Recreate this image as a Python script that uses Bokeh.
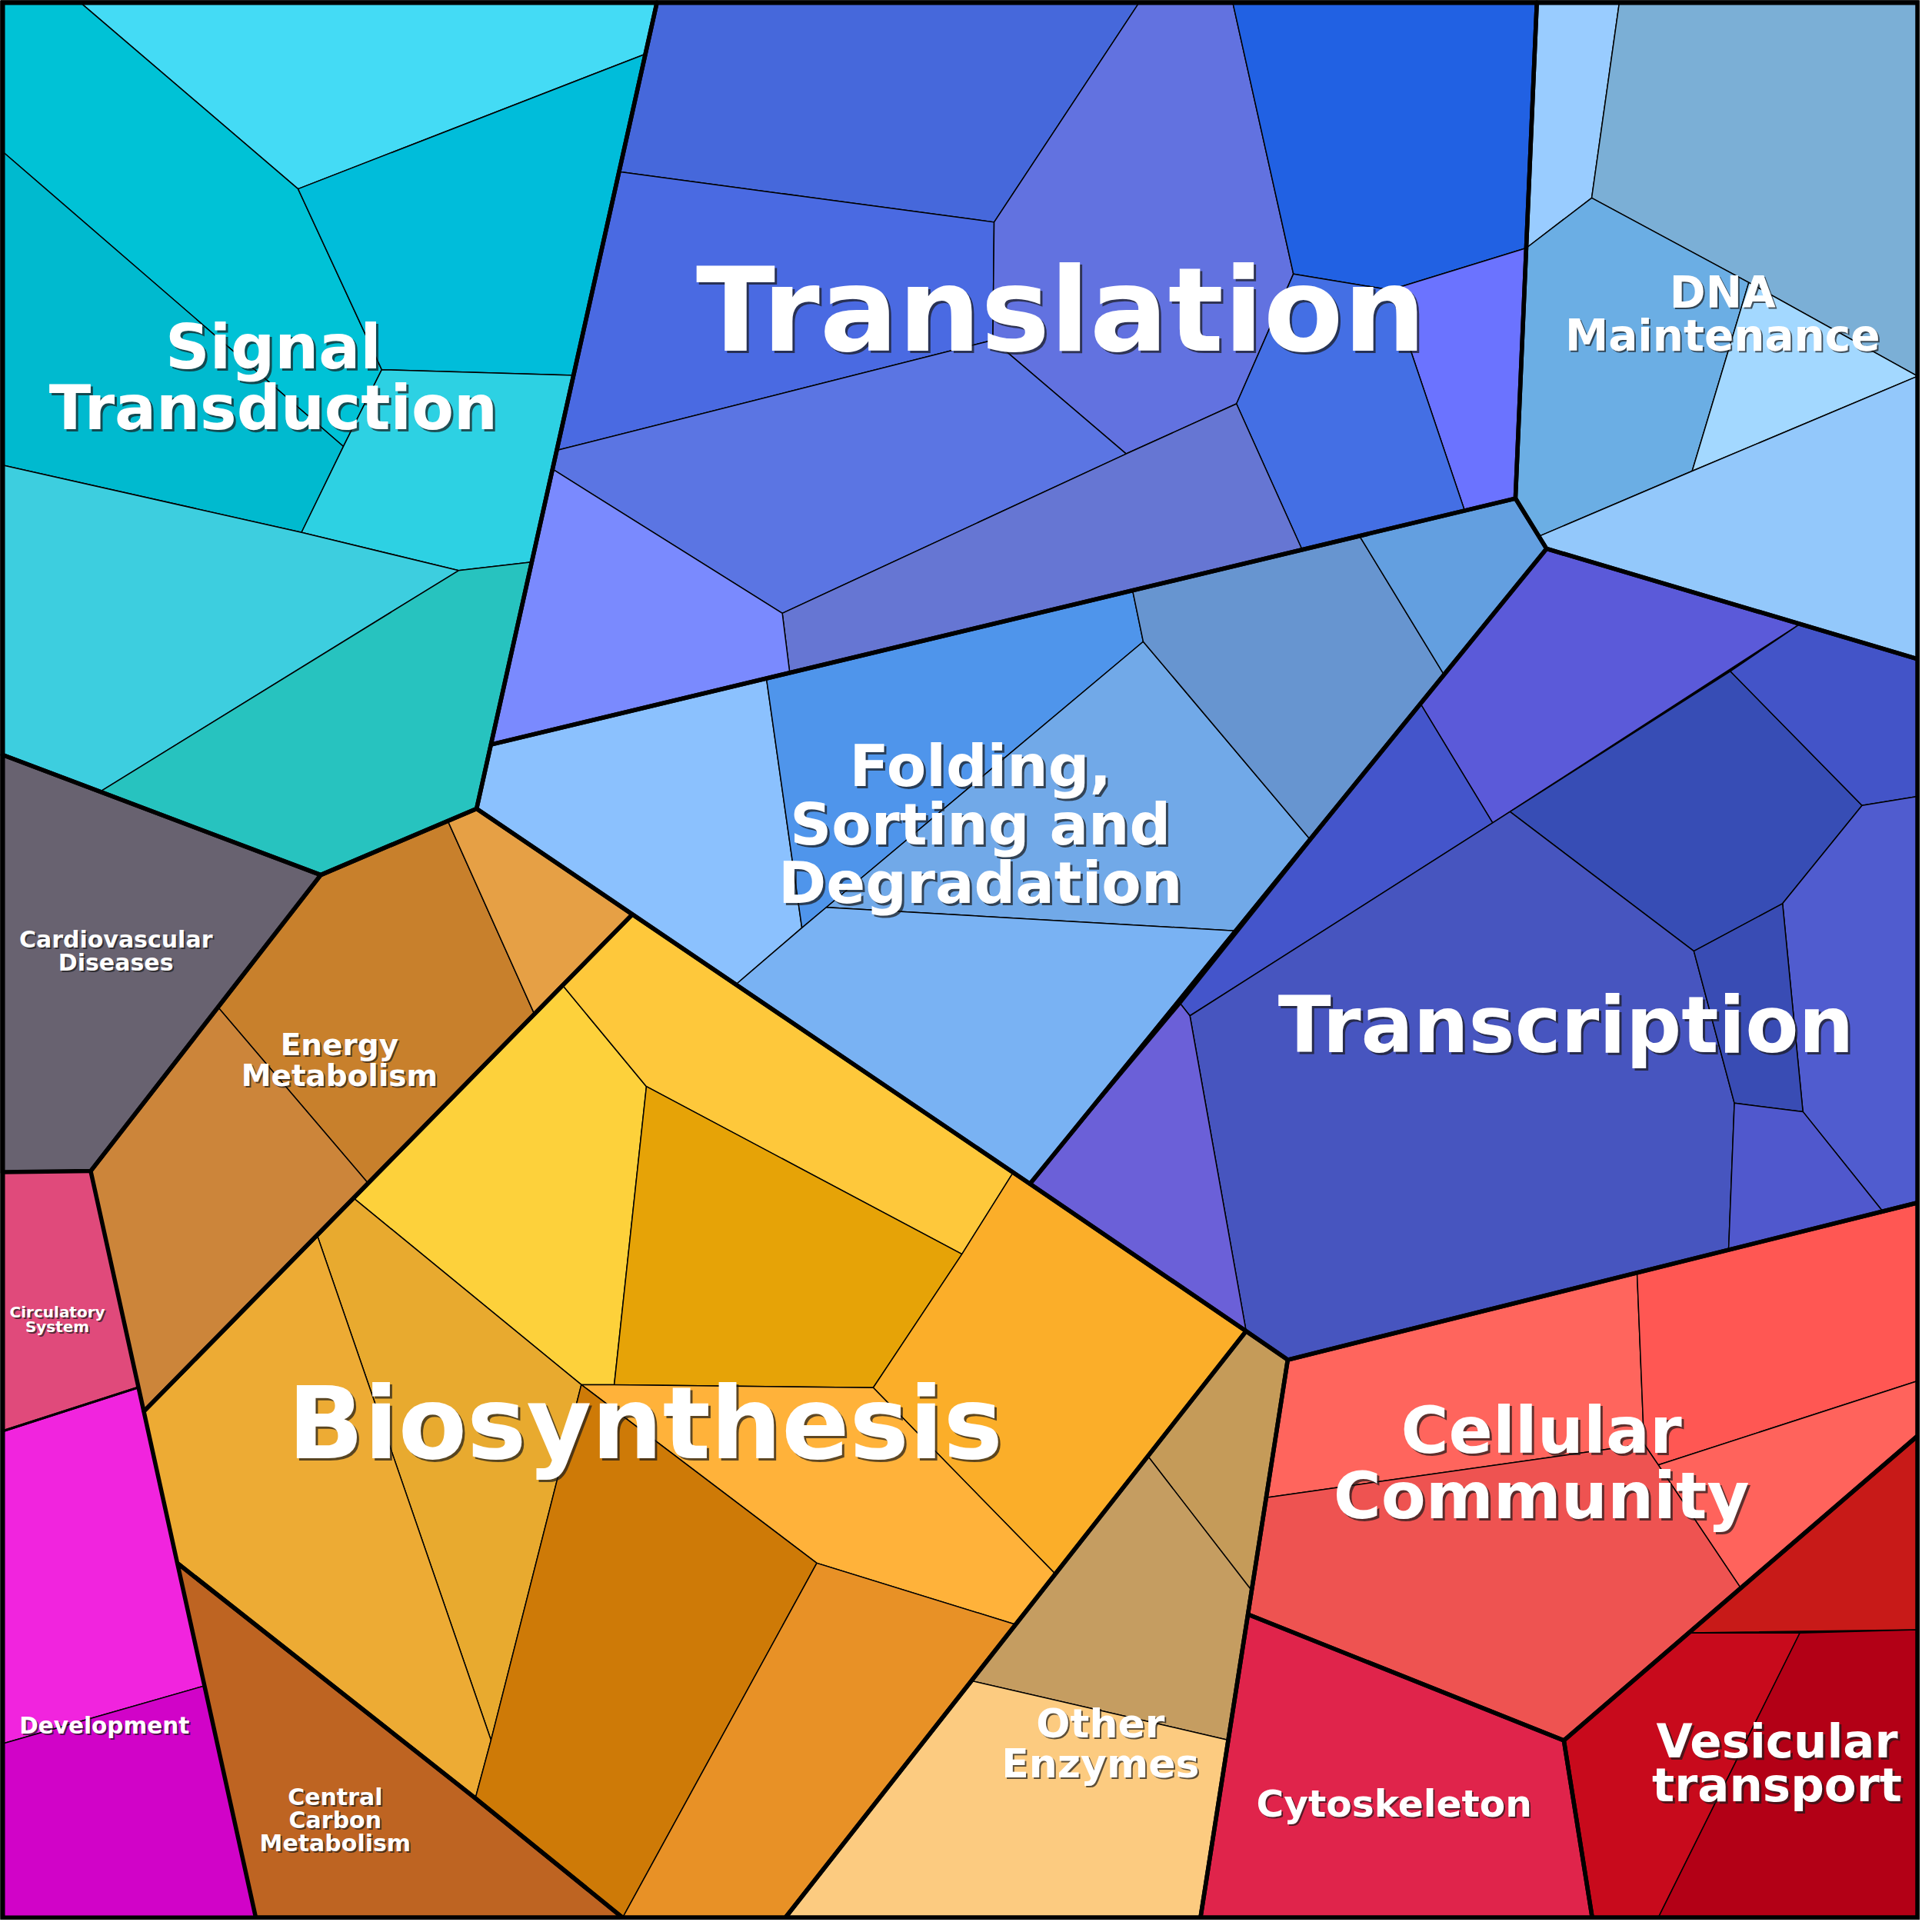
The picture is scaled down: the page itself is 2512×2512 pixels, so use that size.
from bokeh.plotting import figure
from bokeh.models import Range1d, ColumnDataSource
from bokeh.embed import file_html
from bokeh.resources import INLINE
from bokeh.core.properties import value

# ---------------- data: Voronoi cells (vertices) ----------------
SIGNAL_TRANSDUCTION = [
    [(69, 6), (538, 6), (528.5, 48.5), (246.6, 158)],
    [(6, 6), (69, 6), (246.6, 158), (314.5, 304.7), (283.4, 367), (6, 127)],
    [(246.6, 158), (528.5, 48.5), (470.2, 309.3), (314.5, 304.7)],
    [(6, 127), (283.4, 367), (249.4, 436.8), (6, 382)],
    [(314.5, 304.7), (470.2, 309.3), (436.4, 460.8), (376.9, 467.7), (249.4, 436.8), (283.4, 367)],
    [(6, 382), (249.4, 436.8), (376.9, 467.7), (85.9, 647.2), (6, 617)],
    [(376.9, 467.7), (436.4, 460.8), (391.5, 661), (265, 714.8), (85.9, 647.2)],
]
SIGNAL_TRANSDUCTION_COLORS = ["#44DBF5", "#00C2D6", "#00BDDA", "#00BACF", "#2DD1E3", "#3DCEDF", "#27C3BF"]

TRANSLATION = [
    [(538, 6), (929.7, 6), (811.5, 185), (507.1, 144)],
    [(507.1, 144), (811.5, 185), (810.5, 280.7), (456.6, 370.2)],
    [(929.7, 6), (1005, 6), (1054.4, 227), (1008.2, 332.4), (918.7, 373), (810.5, 280.7), (811.5, 185)],
    [(1005, 6), (1252, 6), (1243.4, 206), (1133, 240), (1054.4, 227)],
    [(1133, 240), (1243.4, 206), (1234.6, 409.2), (1193.4, 419.1)],
    [(1054.4, 227), (1133, 240), (1193.4, 419.1), (1061.5, 450.8), (1008.2, 332.4)],
    [(456.6, 370.2), (810.5, 280.7), (918.7, 373), (639.6, 502.4), (453.1, 385.4)],
    [(639.6, 502.4), (918.7, 373), (1008.2, 332.4), (1061.5, 450.8), (645.6, 550.7)],
    [(453.1, 385.4), (639.6, 502.4), (645.6, 550.7), (403.1, 609)],
]
TRANSLATION_COLORS = ["#4668DB", "#4A6AE2", "#6272E0", "#2161E3", "#6B73FF", "#446FE4", "#5B75E3", "#6676D3", "#7A8AFE"]

DNA_MAINTENANCE = [
    [(1252, 6), (1319, 6), (1296.5, 165.3), (1243.4, 206)],
    [(1319, 6), (1561, 6), (1561, 310), (1424, 234), (1296.5, 165.3)],
    [(1243.4, 206), (1296.5, 165.3), (1424, 234), (1378, 387), (1253.6, 440), (1234.6, 409.2)],
    [(1424, 234), (1561, 310), (1378, 387)],
    [(1378, 387), (1561, 310), (1561, 539.5), (1259.8, 450), (1253.6, 440)],
]
DNA_MAINTENANCE_COLORS = ["#99CCFF", "#7BAFD6", "#6BAEE4", "#A3D8FF", "#93C8FB"]

FOLDING = [
    [(403.1, 609), (626.7, 555.3), (655.5, 757.7), (601.8, 803.8), (391.5, 661)],
    [(626.7, 555.3), (924, 484.5), (932.5, 525.4), (675.3, 741.1), (655.5, 757.7)],
    [(932.5, 525.4), (1067.6, 685.5), (1006.7, 760.1), (675.3, 741.1)],
    [(655.5, 757.7), (675.3, 741.1), (1006.7, 760.1), (840.6, 965.5), (601.8, 803.8)],
    [(924, 484.5), (1108, 439.6), (1176.5, 552), (1067.6, 685.5), (932.5, 525.4)],
    [(1108, 439.6), (1234.6, 409.2), (1259.8, 450), (1176.5, 552)],
]
FOLDING_COLORS = ["#8BC1FE", "#4F95EB", "#71A9E8", "#79B2F3", "#6795D0", "#639FE0"]

TRANSCRIPTION = [
    [(1259.8, 450), (1465.5, 511.1), (1216.1, 672.5), (1157.6, 575.9)],
    [(1157.6, 575.9), (1216.1, 672.5), (970.4, 829.1), (962.9, 819.6)],
    [(1230.2, 663.5), (1409, 549.5), (1515.9, 658.4), (1451.4, 738), (1379.4, 776.6)],
    [(970.4, 829.1), (1216.1, 672.5), (1230.2, 663.5), (1379.4, 776.6), (1412.3, 900),
     (1407.6, 1019.1), (1049.8, 1108.3), (1016, 1085)],
    [(1465.5, 511.1), (1561, 539.5), (1561, 651.1), (1515.9, 658.4), (1409, 549.5)],
    [(1515.9, 658.4), (1561, 651.1), (1561, 980.8), (1532.8, 987.9), (1467.9, 906.9), (1451.4, 738)],
    [(1379.4, 776.6), (1451.4, 738), (1467.9, 906.9), (1412.3, 900)],
    [(1412.3, 900), (1467.9, 906.9), (1532.8, 987.9), (1407.6, 1019.1)],
    [(962.9, 819.6), (970.4, 829.1), (1016, 1085), (840.6, 965.5)],
]
TRANSCRIPTION_COLORS = ["#5B5AD9", "#4455CB", "#374DB5", "#4755BF", "#4354C8", "#505CCF", "#394CB4", "#5058CD", "#6B60D8"]

CELLULAR_COMMUNITY = [
    [(1049.8, 1108.3), (1333.3, 1037.6), (1339, 1176.6), (1032.3, 1220.2)],
    [(1333.3, 1037.6), (1561, 980.8), (1561, 1125.4), (1350.5, 1193.6), (1339, 1176.6)],
    [(1350.5, 1193.6), (1561, 1125.4), (1561, 1170), (1417.5, 1293.6)],
    [(1032.3, 1220.2), (1339, 1176.6), (1350.5, 1193.6), (1417.5, 1293.6), (1273.9, 1417.2), (1017.5, 1314.9)],
]
CELLULAR_COMMUNITY_COLORS = ["#FF655D", "#FF5753", "#FF635C", "#EE5351"]

CYTOSKELETON = [[(1017.5, 1314.9), (1273.9, 1417.2), (1296.9, 1561), (979, 1561)]]
CYTOSKELETON_COLORS = ["#E0244B"]

VESICULAR_TRANSPORT = [
    [(1417.5, 1293.6), (1561, 1170), (1561, 1327.4), (1375.4, 1329.9)],
    [(1375.4, 1329.9), (1465.4, 1330), (1350.5, 1561), (1296.9, 1561), (1273.9, 1417.2)],
    [(1465.4, 1330), (1561, 1327.4), (1561, 1561), (1350.5, 1561)],
]
VESICULAR_TRANSPORT_COLORS = ["#C81A18", "#C80A1C", "#B30016"]

OTHER_ENZYMES = [
    [(1016, 1085), (1049.8, 1108.3), (1020.5, 1295.5), (936.3, 1186.5)],
    [(936.3, 1186.5), (1020.5, 1295.5), (1001.5, 1416.9), (793.1, 1368.8)],
    [(793.1, 1368.8), (1001.5, 1416.9), (979, 1561), (642.1, 1561)],
]
OTHER_ENZYMES_COLORS = ["#C59B59", "#C59D61", "#FCCB80"]

BIOSYNTHESIS = [
    [(461.4, 804.5), (529.3, 886.5), (503.2, 1128.5), (476.5, 1128.5), (292.1, 977.4)],
    [(517.9, 746.8), (826.8, 956.5), (785.4, 1022.5), (529.3, 886.5), (461.4, 804.5)],
    [(529.3, 886.5), (785.4, 1022.5), (713.4, 1130.9), (503.2, 1128.5)],
    [(826.8, 956.5), (1016, 1085), (861.2, 1282.1), (713.4, 1130.9), (785.4, 1022.5)],
    [(476.5, 1128.5), (503.2, 1128.5), (713.4, 1130.9), (861.2, 1282.1), (829, 1323.1), (667.6, 1273.3)],
    [(292.1, 977.4), (476.5, 1128.5), (403.2, 1416.9), (262.3, 1007.8)],
    [(262.3, 1007.8), (403.2, 1416.9), (390.5, 1464.1), (148.6, 1273.3), (121.4, 1150.2)],
    [(476.5, 1128.5), (667.6, 1273.3), (510, 1561), (390.5, 1464.1), (403.2, 1416.9)],
    [(667.6, 1273.3), (829, 1323.1), (642.1, 1561), (510, 1561)],
]
BIOSYNTHESIS_COLORS = ["#FDD13B", "#FEC83B", "#E6A307", "#FBAE29", "#FFB23A", "#E8AA2F", "#EDAB34", "#CE7A07", "#E89126"]

CENTRAL_CARBON = [[(148.6, 1273.3), (390.5, 1464.1), (510, 1561), (212.3, 1561)]]
CENTRAL_CARBON_COLORS = ["#BE6422"]

ENERGY_METABOLISM = [
    [(265, 714.8), (368.2, 671.1), (438.5, 827.9), (304, 965.6), (181.6, 822.1)],
    [(368.2, 671.1), (391.5, 661), (517.9, 746.8), (438.5, 827.9)],
    [(181.6, 822.1), (304, 965.6), (121.4, 1150.2), (78.3, 955.1)],
]
ENERGY_METABOLISM_COLORS = ["#C8802C", "#E6A045", "#CC853A"]

CARDIOVASCULAR = [[(6, 617), (265, 714.8), (78.3, 955.1), (6, 956)]]
CARDIOVASCULAR_COLORS = ["#686270"]

CIRCULATORY = [[(6, 956), (78.3, 955.1), (117.1, 1130.7), (6, 1166.5)]]
CIRCULATORY_COLORS = ["#E04A7B"]

DEVELOPMENT = [
    [(6, 1166.5), (117.1, 1130.7), (170.6, 1372.9), (6, 1420)],
    [(6, 1420), (170.6, 1372.9), (212.3, 1561), (6, 1561)],
]
DEVELOPMENT_COLORS = ["#F124DE", "#D103C8"]

# group outlines (top-level categories)
GROUP_OUTLINES = [
    [(6, 6), (538, 6), (391.5, 661), (265, 714.8), (6, 617)],
    [(538, 6), (1252, 6), (1234.6, 409.2), (403.1, 609)],
    [(1252, 6), (1561, 6), (1561, 539.5), (1259.8, 450), (1234.6, 409.2)],
    [(403.1, 609), (1234.6, 409.2), (1259.8, 450), (840.6, 965.5), (391.5, 661)],
    [(1259.8, 450), (1561, 539.5), (1561, 980.8), (1049.8, 1108.3), (1016, 1085), (840.6, 965.5)],
    [(1049.8, 1108.3), (1561, 980.8), (1561, 1170), (1273.9, 1417.2), (1017.5, 1314.9)],
    [(1017.5, 1314.9), (1273.9, 1417.2), (1296.9, 1561), (979, 1561)],
    [(1561, 1170), (1561, 1561), (1296.9, 1561), (1273.9, 1417.2)],
    [(1016, 1085), (1049.8, 1108.3), (979, 1561), (642.1, 1561)],
    [(517.9, 746.8), (840.6, 965.5), (1016, 1085), (642.1, 1561), (510, 1561), (390.5, 1464.1),
     (148.6, 1273.3), (121.4, 1150.2)],
    [(148.6, 1273.3), (390.5, 1464.1), (510, 1561), (212.3, 1561)],
    [(265, 714.8), (391.5, 661), (517.9, 746.8), (121.4, 1150.2), (78.3, 955.1)],
    [(6, 617), (265, 714.8), (78.3, 955.1), (6, 956)],
]
MINOR_OUTLINES = [
    [(6, 956), (78.3, 955.1), (117.1, 1130.7), (6, 1166.5)],
    [(6, 1166.5), (117.1, 1130.7), (212.3, 1561), (6, 1561)],
]

# labels
LABELS = ["Signal\nTransduction", "Translation", "DNA\nMaintenance", "Folding,\nSorting and\nDegradation",
          "Transcription", "Biosynthesis", "Energy\nMetabolism", "Cardiovascular\nDiseases",
          "Circulatory\nSystem", "Development", "Central\nCarbon\nMetabolism", "Other\nEnzymes",
          "Cellular\nCommunity", "Cytoskeleton", "Vesicular\ntransport"]
LABEL_X = [224, 861, 1401, 798, 1272.5, 524.3, 279, 97.8, 50.6, 88.5, 275.8, 896.2, 1253, 1134.7, 1445]
LABEL_Y = [300.1, 286.6, 250.5, 638.9, 855, 1185.4, 857.2, 769.2, 1069.5, 1407.5, 1465.5, 1411, 1180.4, 1474.8, 1426.7]
LABEL_SIZE = [80, 151, 56.5, 75, 101, 130, 39, 30, 20, 29.5, 30, 52, 84.5, 48.7, 61]
LABEL_PITCH = [49.4, 0, 35, 47.45, 0, 0, 24.6, 18.6, 11.8, 0, 18.75, 32.2, 53, 0, 36]

PX_PER_UNIT = 2496 / 1558.0

# ---------------- build ----------------
groups = [
    (SIGNAL_TRANSDUCTION, SIGNAL_TRANSDUCTION_COLORS), (TRANSLATION, TRANSLATION_COLORS),
    (DNA_MAINTENANCE, DNA_MAINTENANCE_COLORS), (FOLDING, FOLDING_COLORS),
    (TRANSCRIPTION, TRANSCRIPTION_COLORS), (CELLULAR_COMMUNITY, CELLULAR_COMMUNITY_COLORS),
    (CYTOSKELETON, CYTOSKELETON_COLORS), (VESICULAR_TRANSPORT, VESICULAR_TRANSPORT_COLORS),
    (OTHER_ENZYMES, OTHER_ENZYMES_COLORS), (BIOSYNTHESIS, BIOSYNTHESIS_COLORS),
    (CENTRAL_CARBON, CENTRAL_CARBON_COLORS), (ENERGY_METABOLISM, ENERGY_METABOLISM_COLORS),
    (CARDIOVASCULAR, CARDIOVASCULAR_COLORS), (CIRCULATORY, CIRCULATORY_COLORS),
    (DEVELOPMENT, DEVELOPMENT_COLORS),
]

cx, cy, cc = [], [], []
for cells, colors in groups:
    for poly, col in zip(cells, colors):
        cx.append([v[0] for v in poly])
        cy.append([v[1] for v in poly])
        cc.append(col)

p = figure(width=2496, height=2496, x_range=Range1d(5, 1563), y_range=Range1d(1563, 5),
           output_backend="svg", toolbar_location=None, x_axis_location=None, y_axis_location=None,
           min_border=0)
p.grid.visible = False
p.outline_line_color = None
p.background_fill_color = "black"
p.border_fill_color = "white"

p.patches(xs="xs", ys="ys", fill_color="color", line_color="black", line_width=1.5,
          source=ColumnDataSource(dict(xs=cx, ys=cy, color=cc)))

p.patches(xs=[[v[0] for v in g] for g in MINOR_OUTLINES], ys=[[v[1] for v in g] for g in MINOR_OUTLINES],
          fill_alpha=0, line_color="black", line_width=3)
p.patches(xs=[[v[0] for v in g] for g in GROUP_OUTLINES], ys=[[v[1] for v in g] for g in GROUP_OUTLINES],
          fill_alpha=0, line_color="black", line_width=5.5)

# outer frame
p.patches(xs=[[5, 1563, 1563, 5]], ys=[[5, 5, 1563, 1563]], fill_alpha=0, line_color="black", line_width=12)

# labels (baseline correction compensates the renderer's baseline placement)
tx, ty, tt, ts, so = [], [], [], [], []
for text, x0, y0, size, pitch in zip(LABELS, LABEL_X, LABEL_Y, LABEL_SIZE, LABEL_PITCH):
    em = size / PX_PER_UNIT
    dy = max(0.0, 0.365 * em - 4.6)
    dx = 0.05 * em
    for i, line in enumerate(text.split("\n")):
        tx.append(x0 + dx)
        ty.append(y0 + i * pitch - dy)
        tt.append(line)
        ts.append(f"{size}px")
        so.append(2 if size < 60 else 3)
src = ColumnDataSource(dict(x=tx, y=ty, text=tt, size=ts, off=so))
p.text(x="x", y="y", text="text", source=src, text_font=value("DejaVu Sans"), text_font_style="bold",
       text_font_size="size", text_align="center", text_baseline="alphabetic",
       text_color="#1a1a1a", text_alpha=0.7, x_offset="off", y_offset="off")
p.text(x="x", y="y", text="text", source=src, text_font=value("DejaVu Sans"), text_font_style="bold",
       text_font_size="size", text_align="center", text_baseline="alphabetic", text_color="white")

open("out.html", "w").write(file_html(p, INLINE))
